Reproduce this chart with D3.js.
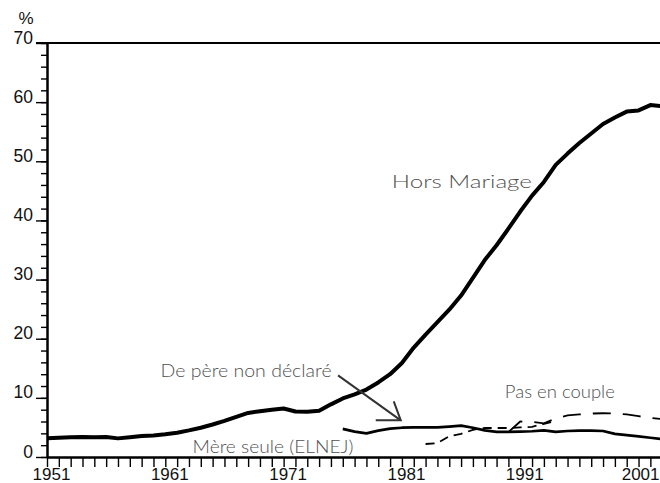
<!DOCTYPE html>
<html>
<head>
<meta charset="utf-8">
<script src="https://cdn.jsdelivr.net/npm/d3@7"></script>
<style>
  html, body { margin: 0; padding: 0; background: #fff; }
  #plot svg { display: block; }
</style>
</head>
<body>
<div id="plot"></div>
<script>
// Hors Mariage (1951-2003)
const hmYears = [1951,1952,1953,1954,1955,1956,1957,1958,1959,1960,
  1961,1962,1963,1964,1965,1966,1967,1968,1969,1970,
  1971,1972,1973,1974,1975,1976,1977,1978,1979,1980,
  1981,1982,1983,1984,1985,1986,1987,1988,1989,1990,
  1991,1992,1993,1994,1995,1996,1997,1998,1999,2000,
  2001,2002,2003];
const hmValues = [3.15,3.25,3.35,3.4,3.35,3.4,3.15,3.35,3.55,3.65,
  3.85,4.1,4.5,4.95,5.5,6.1,6.8,7.45,7.75,8.0,
  8.2,7.7,7.65,7.8,8.9,9.9,10.6,11.4,12.6,14.0,
  15.9,18.5,20.7,22.8,24.9,27.3,30.3,33.3,35.8,38.6,
  41.5,44.2,46.5,49.4,51.3,53.1,54.7,56.3,57.4,58.4,
  58.6,59.5,59.3];

// Mère seule (ELNEJ)
const msYears = [1976,1977,1978,1979,1980,1981,1982,1983,1984,1985,
  1986,1987,1988,1989,1990,1991,1992,1993,1994,1995,
  1996,1997,1998,1999,2000,2001,2002,2003];
const msValues = [4.75,4.3,4.0,4.45,4.8,4.95,5.0,5.0,5.0,5.15,
  5.3,4.95,4.5,4.25,4.25,4.3,4.35,4.5,4.25,4.4,
  4.45,4.45,4.4,3.9,3.7,3.5,3.25,3.0];

// Pas en couple, two sources
const pcYearsA = [1983,1984,1985,1986,1987,1988,1989,1990,1991,1992,1993,1994];
const pcValuesA = [2.2,2.35,3.5,3.9,4.6,4.9,4.9,4.9,5.0,5.1,5.6,6.1];
const pcYearsB = [1990,1991,1992,1993,1994,1995,1996,1997,1998,1999,2000,2001,2002,2003];
const pcValuesB = [4.2,6.0,5.95,5.7,6.5,7.05,7.2,7.35,7.4,7.35,7.2,6.9,6.6,6.4];

const yMajor = [0,10,20,30,40,50,60,70];
const xLabelYears = [1951,1961,1971,1981,1991,2001];

const labels = [
  {text: "Hors Mariage", year: 1980.15, value: 45.5, len: 140},
  {text: "De père non déclaré", year: 1960.6, value: 13.5, len: 171},
  {text: "Pas en couple", year: 1989.7, value: 10.0, len: 110},
  {text: "Mère seule (ELNEJ)", year: 1963.3, value: 0.65, len: 161}
];

const width = 660, height = 483;

const svg = d3.select("#plot")
  .append("svg")
  .attr("width", width)
  .attr("height", height);

const x = d3.scaleLinear()
  .domain([1951, 2003])
  .range([47, 662.2]);

const y = d3.scaleLinear()
  .domain([0, 70])
  .range([457, 43]);

// top frame line
svg.append("line")
  .attr("x1", 36).attr("x2", width)
  .attr("y1", y(70)).attr("y2", y(70))
  .attr("stroke", "#000").attr("stroke-width", 2);

// x axis, a tick every year
const xAxis = svg.append("g")
  .attr("transform", "translate(0," + y(0) + ")")
  .call(d3.axisBottom(x)
    .tickValues(d3.range(1951, 2003))
    .tickSize(10)
    .tickSizeOuter(0)
    .tickFormat(d => xLabelYears.includes(d) ? String(d) : ""));
xAxis.select(".domain").attr("stroke-width", 2.5);
xAxis.selectAll(".tick line").attr("stroke-width", 1.4);
xAxis.selectAll("text")
  .attr("font-family", "'Liberation Sans', Arial, sans-serif")
  .attr("font-size", 17)
  .attr("fill", "#111")
  .attr("x", 4)
  .attr("y", 22.5)
  .attr("dy", 0);
// last label sits against the right edge
xAxis.selectAll(".tick text")
  .filter(d => d === 2001)
  .attr("text-anchor", "end")
  .attr("x", width - 1 - x(2001));

// y axis minor ticks every 2
svg.append("g")
  .attr("transform", "translate(" + x(1951) + ",0)")
  .call(d3.axisLeft(y).tickValues(d3.range(0, 71, 2)).tickSize(6).tickSizeOuter(0).tickFormat(""))
  .call(g => g.select(".domain").remove())
  .selectAll(".tick line").attr("stroke-width", 1.4);

// y axis major ticks
const yAxis = svg.append("g")
  .attr("transform", "translate(" + x(1951) + ",0)")
  .call(d3.axisLeft(y).tickValues(yMajor).tickSize(11).tickSizeOuter(0));
yAxis.select(".domain").attr("stroke-width", 2.5);
yAxis.selectAll(".tick line").attr("stroke-width", 1.4);
yAxis.selectAll("text")
  .attr("font-family", "'Liberation Sans', Arial, sans-serif")
  .attr("font-size", 17.5)
  .attr("fill", "#111")
  .attr("x", -14)
  .attr("dy", 0);

svg.append("text")
  .attr("x", 26).attr("y", 24)
  .attr("text-anchor", "middle")
  .attr("font-family", "'Liberation Sans', Arial, sans-serif")
  .attr("font-size", 17)
  .attr("fill", "#111")
  .text("%");

const line = d3.line()
  .x(d => x(d[0]))
  .y(d => y(d[1]));

svg.append("path")
  .datum(d3.zip(hmYears, hmValues))
  .attr("d", line)
  .attr("fill", "none")
  .attr("stroke", "#000")
  .attr("stroke-width", 4)
  .attr("stroke-linejoin", "round");

svg.append("path")
  .datum(d3.zip(msYears, msValues))
  .attr("d", line)
  .attr("fill", "none")
  .attr("stroke", "#000")
  .attr("stroke-width", 2.7)
  .attr("stroke-linejoin", "round");

svg.append("path")
  .datum(d3.zip(pcYearsA, pcValuesA))
  .attr("d", line)
  .attr("fill", "none")
  .attr("stroke", "#000")
  .attr("stroke-width", 1.8)
  .attr("stroke-dasharray", "9,6");

svg.append("path")
  .datum(d3.zip(pcYearsB, pcValuesB))
  .attr("d", line)
  .attr("fill", "none")
  .attr("stroke", "#000")
  .attr("stroke-width", 1.8)
  .attr("stroke-dasharray", "18,12");

// labels
svg.selectAll(".lbl")
  .data(labels)
  .enter()
  .append("text")
  .attr("class", "lbl")
  .attr("x", d => x(d.year))
  .attr("y", d => y(d.value))
  .attr("font-family", "Lato, 'Open Sans', sans-serif")
  .attr("font-weight", 300)
  .attr("font-size", 18.5)
  .attr("fill", "#505050")
  .attr("textLength", d => d.len)
  .attr("lengthAdjust", "spacingAndGlyphs")
  .text(d => d.text);

// arrow from "De père non déclaré"
const arrowFrom = [1975.6, 13.8];
const arrowTo = [1980.9, 6.2];
const arrow = svg.append("g")
  .attr("stroke", "#333")
  .attr("stroke-width", 2)
  .attr("fill", "none");
arrow.append("line")
  .attr("x1", x(arrowFrom[0])).attr("y1", y(arrowFrom[1]))
  .attr("x2", x(arrowTo[0])).attr("y2", y(arrowTo[1]));
arrow.append("polyline")
  .attr("points", [
    [x(arrowTo[0]) - 25, y(arrowTo[1])],
    [x(arrowTo[0]), y(arrowTo[1])],
    [x(arrowTo[0]) - 7, y(arrowTo[1]) - 19]
  ].map(p => p.join(",")).join(" "));
</script>
</body>
</html>
